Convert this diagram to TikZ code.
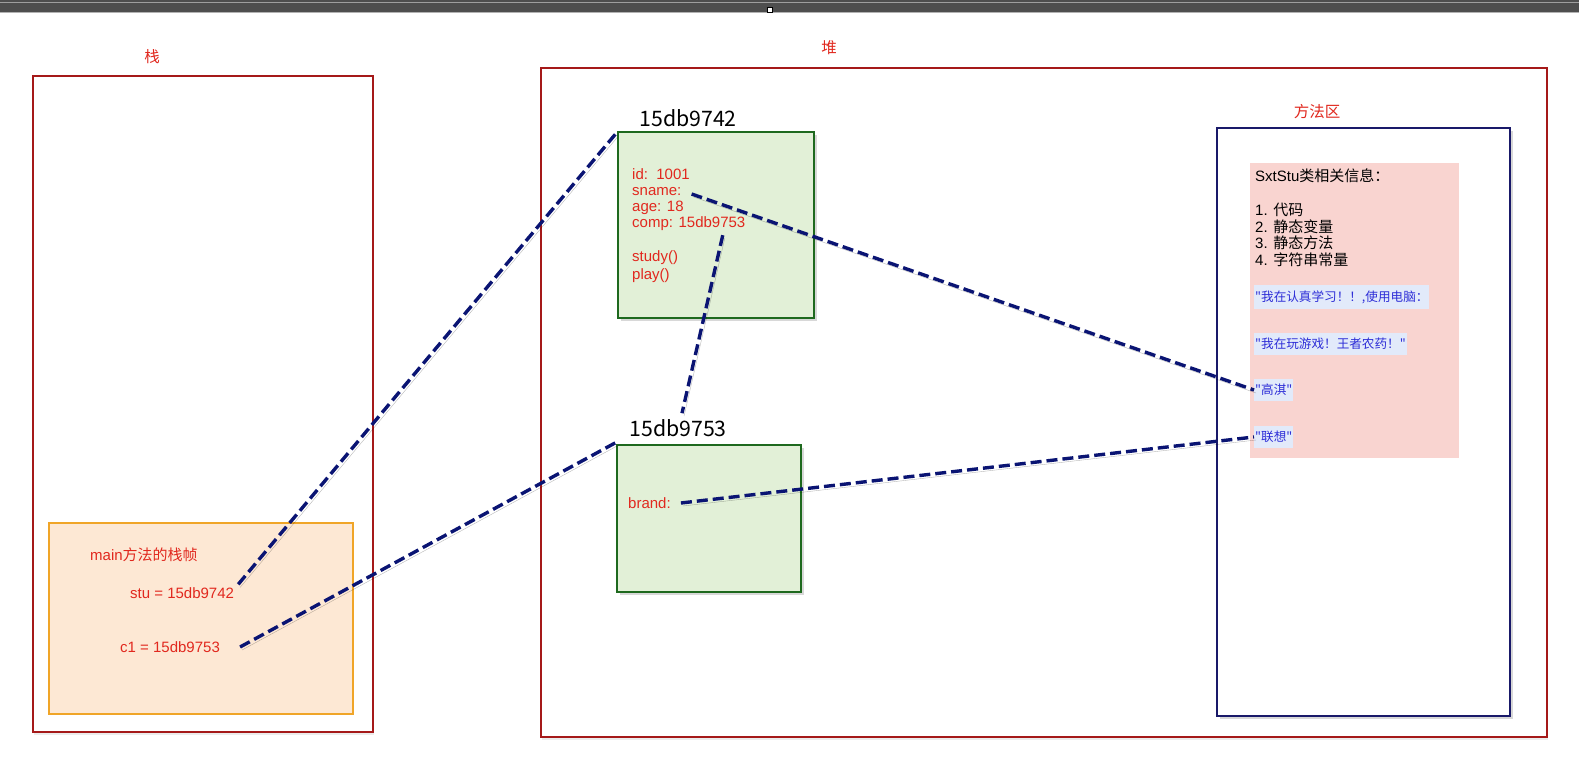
\documentclass[tikz,border=0pt]{standalone}
\usepackage{fontspec}
\setmainfont{Liberation Sans}
\newfontfamily\cjk{Noto Sans CJK SC}
\usepackage{tikz}
\usetikzlibrary{shadows}
\definecolor{labelred}{RGB}{225,40,30}
\definecolor{areared}{RGB}{165,25,25}
\definecolor{frameorange}{RGB}{240,165,40}
\definecolor{framefill}{RGB}{253,232,212}
\definecolor{objgreen}{RGB}{30,105,30}
\definecolor{objfill}{RGB}{226,240,215}
\definecolor{methodnavy}{RGB}{25,25,105}
\definecolor{constpink}{RGB}{249,212,208}
\definecolor{strblue}{RGB}{45,45,215}
\definecolor{strfill}{RGB}{226,234,250}
\definecolor{refnavy}{RGB}{10,20,115}
\definecolor{topbar}{RGB}{78,78,78}

\begin{document}
\begin{tikzpicture}[x=1pt,y=-1pt,
    area/.style={draw=areared, line width=1.4pt, minimum width=#1},
    objbox/.style={draw=objgreen, fill=objfill, line width=1.4pt,
        drop shadow={shadow xshift=3pt, shadow yshift=-3pt, opacity=0.3}},
    arealabel/.style={text=labelred, font=\cjk\fontsize{15.5}{17}\selectfont},
    addr/.style={font=\cjk\fontsize{21.3}{23}\selectfont, inner sep=1pt},
    field/.style={text=labelred, font=\fontsize{15}{17}\selectfont, inner sep=0pt, anchor=west},
    info/.style={font=\fontsize{15}{17}\selectfont, inner sep=0pt, anchor=west},
    strconst/.style={text=strblue, fill=strfill, font=\cjk\fontsize{12.6}{14}\selectfont,
        inner xsep=1pt, inner ysep=5pt, anchor=west},
    ref/.style={draw=refnavy, line width=3.4pt, dash pattern=on 11pt off 5pt,
        preaction={draw=black, opacity=0.28, transform canvas={xshift=2pt, yshift=-3pt}}}]
    \useasboundingbox (0,0) rectangle (1579,757);
    \fill[white] (0,0) rectangle (1579,757);

    % window bar
    \fill[topbar] (0,0) rectangle (1579,13);
    \draw[gray!75, line width=1pt] (0,3) -- (1579,3);
    \draw[gray!60, line width=0.8pt] (0,12.5) -- (1579,12.5);
    \filldraw[fill=white, draw=black, line width=0.4pt] (767,7) rectangle (772,12);

    % Stack
    \node[area, minimum width=340, minimum height=656,
        drop shadow={shadow xshift=1pt, shadow yshift=-3pt, opacity=0.15}, fill=white] (stack) at (203,404) {};
    \node[arealabel] (stacklbl) at (152,57) {栈};
    \node[draw=frameorange, fill=framefill, line width=1.4pt,
        minimum width=304, minimum height=191] (frame) at (201,618.5) {};
    \node[field] (framelbl) at (90,555) {main{\cjk 方法的栈帧}};
    \node[field] (stu) at (130,593) {stu = 15db9742};
    \node[field] (c1) at (120,647) {c1 = 15db9753};

    % Heap
    \node[area, minimum width=1006, minimum height=669,
        drop shadow={shadow xshift=1pt, shadow yshift=-3pt, opacity=0.15}, fill=white] (heap) at (1044,402.5) {};
    \node[arealabel] (heaplbl) at (829,48) {堆};

    % SxtStu object
    \node[objbox, minimum width=196, minimum height=186] (obj1) at (716,225) {};
    \node[addr] (addr1) at (688,118) {15db9742};
    \node[field] (id) at (632,174) {id:\ \ 1001};
    \node[field] (sname) at (632,192) {sname:};
    \node[field] (age) at (632,208) {age: 18};
    \node[field] (comp) at (632,224) {comp: 15db9753};
    \node[field] (study) at (632,258) {study()};
    \node[field] (play) at (632,276) {play()};

    % Computer object
    \node[objbox, minimum width=184, minimum height=147] (obj2) at (709,518.5) {};
    \node[addr] (addr2) at (678,428) {15db9753};
    \node[field] (brand) at (628,503) {brand:};

    % Method area
    \node[draw=methodnavy, fill=white, line width=1.4pt, minimum width=293, minimum height=588,
        drop shadow={shadow xshift=3pt, shadow yshift=-3pt, opacity=0.3}] (method) at (1363.5,422) {};
    \node[arealabel] (methodlbl) at (1317,112) {方法区};
    \node[fill=constpink, minimum width=209, minimum height=295] (pool) at (1354.5,310.5) {};
    \node[info] (clsinfo) at (1255,176) {SxtStu{\cjk 类相关信息：}};
    \node[info] (code) at (1255,210) {1. {\cjk 代码}};
    \node[info] (svar) at (1255,227) {2. {\cjk 静态变量}};
    \node[info] (smeth) at (1255,243) {3. {\cjk 静态方法}};
    \node[info] (sconst) at (1255,260) {4. {\cjk 字符串常量}};
    \node[strconst] (str1) at (1254,297) {"我在认真学习！！,使用电脑：};
    \node[strconst] (str2) at (1254,344) {"我在玩游戏！王者农药！"};
    \node[strconst] (str3) at (1254,390) {"高淇"};
    \node[strconst] (str4) at (1254,437) {"联想"};

    % References
    \draw[ref] ([shift={(4pt,3pt)}]stu.north east) -- ([shift={(-2pt,-3pt)}]obj1.north west);
    \draw[ref] ([xshift=20pt]c1.east) -- ([shift={(0pt,2pt)}]obj2.north west);
    \draw[ref] ([shift={(34pt,-4pt)}]comp.south) -- ([shift={(4pt,5pt)}]addr2.north);
    \draw[ref] ([shift={(10pt,-2pt)}]sname.east) -- (str3.west);
    \draw[ref] ([xshift=10pt]brand.east) -- (str4.west);
\end{tikzpicture}
\end{document}
